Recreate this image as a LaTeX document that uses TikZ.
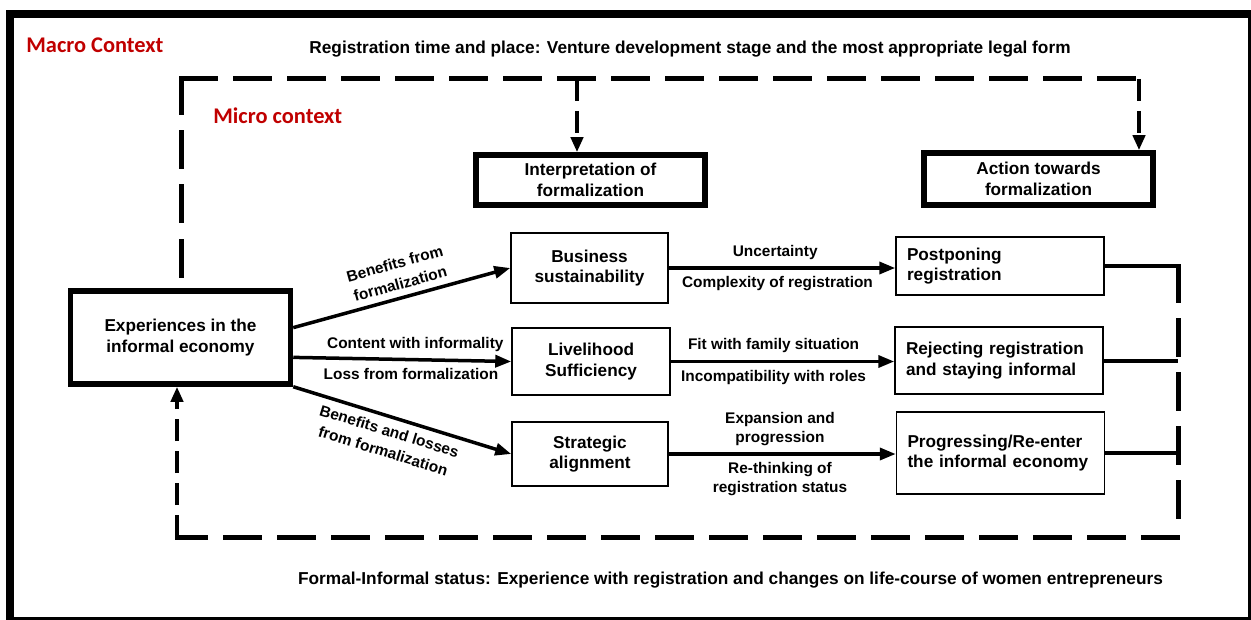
\documentclass[tikz,border=0pt]{standalone}
\usepackage{fontspec}
\setmainfont{Liberation Sans}
\newfontfamily\ctxfont{Carlito}
\usetikzlibrary{arrows.meta}
\definecolor{ctxred}{HTML}{C00000}
\newcommand{\boxtxt}{\fontsize{8.6}{10.2}\selectfont\bfseries}
\newcommand{\lbltxt}{\fontsize{7.7}{9.4}\selectfont\bfseries}
\newcommand{\slanttxt}{\fontsize{7.7}{10.4}\selectfont\bfseries}
\newcommand{\captxt}{\fontsize{8.63}{10}\selectfont\bfseries}
\newcommand{\ctxtxt}{\ctxfont\fontsize{11.2}{13}\selectfont\bfseries}
\tikzset{
	thickbox/.style={draw, line width=2.75pt, align=center, font=\boxtxt},
	thinbox/.style={draw, line width=0.75pt, align=center, font=\boxtxt},
	leftbox/.style={thinbox, align=left, inner xsep=5.5pt, text width=93pt},
	flow/.style={line width=1.75pt, -{Triangle[length=8pt,width=6pt]}},
	tie/.style={line width=2pt},
	longdash/.style={line width=2.5pt, line cap=rect, dash pattern=on 17pt off 10pt},
	shortdash/.style={line width=2pt, dash pattern=on 11pt off 5pt, -{Triangle[length=7.5pt,width=6pt]}},
	lbl/.style={font=\lbltxt, align=center},
	slantlbl/.style={font=\slanttxt, align=center, sloped},
	ctx/.style={anchor=west, inner sep=0pt, text=ctxred, font=\ctxtxt},
}

\begin{document}
\begin{tikzpicture}[x=0.5pt, y=-0.5pt]
	\useasboundingbox (0,0) rectangle (1251,620);
	%%%%% FRAME %%%%%
	\draw[line width=4pt] (10,14) rectangle (1251.5,620.5);
	\node[ctx] (macro) at (26,45) {Macro Context};
	\node[ctx] (micro) at (213,116) {Micro context};
	\node[font=\captxt, inner sep=0pt] (toptxt) at (690,49) {Registration time and place: Venture development stage and the most appropriate legal form};
	\node[font=\captxt, inner sep=0pt] (bottxt) at (730.5,580) {Formal-Informal status: Experience with registration and changes on life-course of women entrepreneurs};
	
	%%%%% BOXES %%%%%
	\node[thickbox, minimum width=110pt, minimum height=46.5pt] (exper) at (180.5,337.5) {Experiences in the\\informal economy};
	\node[thickbox, minimum width=114.5pt, minimum height=25pt] (interp) at (590.5,180) {Interpretation of\\formalization};
	\node[thickbox, minimum width=114.5pt, minimum height=26pt] (action) at (1038.5,179) {Action towards\\formalization};
	
	\node[thinbox, minimum width=78.5pt, minimum height=35pt] (busi) at (589.5,268) {Business\\sustainability};
	\node[thinbox, minimum width=79pt, minimum height=33.5pt] (live) at (591,361.5) {Livelihood\\Sufficiency};
	\node[thinbox, minimum width=78pt, minimum height=32pt] (strat) at (590,454) {Strategic\\alignment};
	
	\node[leftbox, minimum height=29pt] (postp) at (1000,266) {Postponing\\registration};
	\node[leftbox, minimum height=33.5pt] (reject) at (999,360.5) {Rejecting registration\\and staying informal};
	\node[leftbox, minimum height=41pt] (progr) at (1000.5,453) {Progressing/Re-enter\\the informal economy};
	
	%%%%% CONNECTORS %%%%%
	\draw[flow] (exper.5) -- node[slantlbl, above, pos=0.51] {Benefits from\\formalization} (busi.west);
	\draw[flow] (exper.-10) -- node[lbl, above, pos=0.56] {Content with informality} node[lbl, below, pos=0.54] {Loss from formalization} (live.west);
	\draw[flow] (exper.south east) -- node[slantlbl, below, pos=0.46] {Benefits and losses\\from formalization} (strat.west);
	
	\draw[flow] (busi.east) -- node[lbl, above, pos=0.47] {Uncertainty} node[lbl, below, pos=0.48] {Complexity of registration} (busi.east -| postp.west);
	\draw[flow] (live.east) -- node[lbl, above, pos=0.46] {Fit with family situation} node[lbl, below, pos=0.46] {Incompatibility with roles} (live.east -| reject.west);
	\draw[flow] (strat.east) -- node[lbl, above, pos=0.49] {Expansion and\\progression} node[lbl, below, pos=0.49] {Re-thinking of\\registration status} (strat.east -| progr.west);
	
	%%%%% DASHED CONTEXT %%%%%
	\coordinate (topL) at (181,79);
	\coordinate (topI) at (577,79);
	\coordinate (topR) at (1139,79);
	\coordinate (botL) at (177,537);
	\coordinate (botR) at (1177,537);
	\coordinate (sideB) at (1178,527);
	
	\draw[longdash] (topL) -- (topR);
	\draw[longdash, shorten >=4.5pt] (topL) -- (topL |- exper.north);
	\draw[shortdash] (topI) -- (topI |- interp.north);
	\draw[shortdash] (topR) -- (topR |- action.north);
	
	\draw[tie] (postp.east) -- (postp.east -| sideB);
	\draw[tie] (reject.east) -- (reject.east -| sideB);
	\draw[tie] (progr.east) -- (progr.east -| sideB);
	\draw[longdash] (postp.east -| sideB) -- (sideB);
	\draw[longdash] (botR) -- (botL);
	\draw[shortdash] (botL) -- (botL |- exper.south);
	%%%%% END %%%%%
\end{tikzpicture}
\end{document}
